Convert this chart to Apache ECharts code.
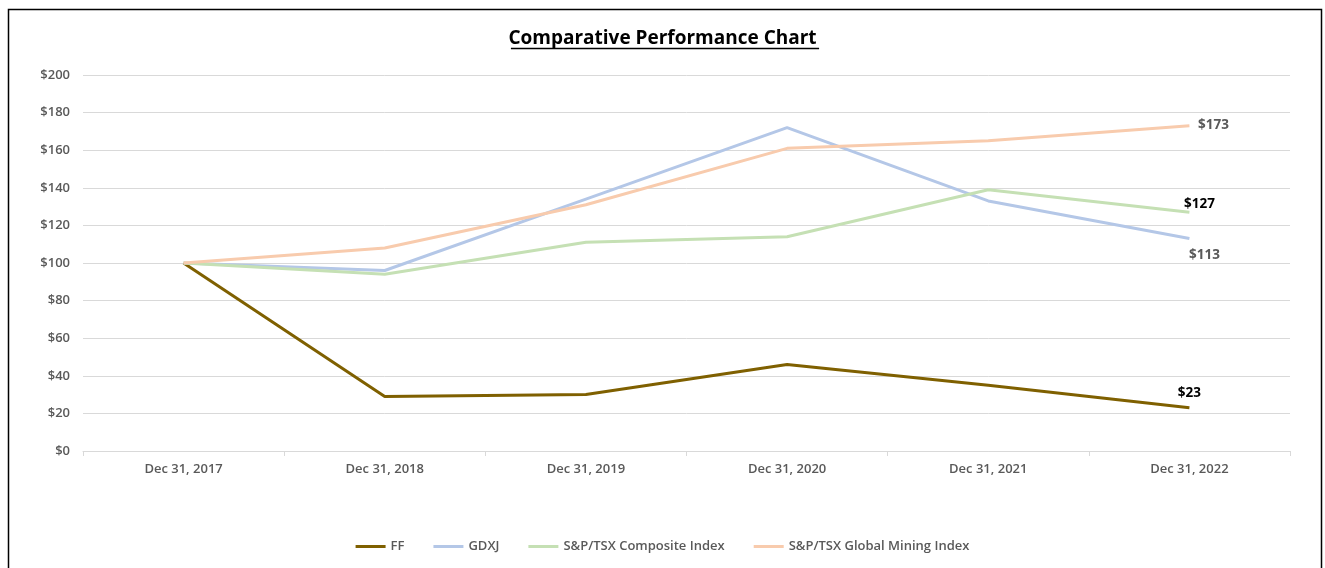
<!DOCTYPE html>
<html>
<head>
<meta charset="utf-8">
<script src="https://cdn.jsdelivr.net/npm/echarts@6/dist/echarts.min.js"></script>
<style>
html,body{margin:0;padding:0;background:#fff;}
#chart{width:1325px;height:568px;}
</style>
</head>
<body>
<div id="chart"></div>
<script>
const categories = ['Dec 31, 2017','Dec 31, 2018','Dec 31, 2019','Dec 31, 2020','Dec 31, 2021','Dec 31, 2022'];
const ff = [100, 29, 30, 46, 35, 23];
const gdxj = [100, 96, 134, 172, 133, 113];
const composite = [100, 94, 111, 114, 139, 127];
const mining = [100, 108, 131, 161, 165, 173];
const seriesNames = ['FF','GDXJ','S&P/TSX Composite Index','S&P/TSX Global Mining Index'];
const yTicks = {min:0, max:200, interval:20};

const font = 'Open Sans';
const grayText = '#595959';

function endLabel(opt){
  return Object.assign({show:true, formatter:'${c}', fontFamily:font, fontSize:13.5,
    align:'center', verticalAlign:'middle', distance:0}, opt);
}

const chart = echarts.init(document.getElementById('chart'), null, {renderer:'canvas'});

const titleText = 'Comparative Performance Chart';
const ctx = document.createElement('canvas').getContext('2d');
ctx.font = 'bold 19px "Open Sans"';
const tw = ctx.measureText(titleText).width;

const option = {
  animation:false,
  backgroundColor:'#fff',
  title:{
    text:titleText, left:'center', top:24,
    textStyle:{fontFamily:font, fontSize:19, fontWeight:'bold', color:'#000'}
  },
  graphic:[
    {type:'rect', shape:{x:8.5, y:9.5, width:1313, height:600}, style:{fill:'none', stroke:'#000', lineWidth:1.5}, silent:true},
    {type:'line', shape:{x1:665-tw/2, y1:48.5, x2:665+tw/2, y2:48.5}, style:{stroke:'#000', lineWidth:1.5}, silent:true}
  ],
  legend:{
    bottom:10, left:'center', itemWidth:30, itemHeight:3, itemGap:29,
    icon:'rect',
    textStyle:{fontFamily:font, fontSize:13, fontWeight:600, color:grayText},
    data:seriesNames
  },
  grid:{left:83, right:35, top:75, bottom:117},
  xAxis:{
    type:'category', data:categories, boundaryGap:true,
    axisLine:{lineStyle:{color:'#d9d9d9', width:1}},
    axisTick:{show:true, length:5, lineStyle:{color:'#d9d9d9'}},
    axisLabel:{fontFamily:font, fontSize:13, fontWeight:600, color:grayText, margin:12}
  },
  yAxis:{
    type:'value', min:yTicks.min, max:yTicks.max, interval:yTicks.interval,
    axisLine:{show:false}, axisTick:{show:false},
    splitLine:{lineStyle:{color:'#d9d9d9', width:1}},
    axisLabel:{fontFamily:font, fontSize:13, fontWeight:600, color:grayText, margin:13, formatter:'${value}'}
  },
  series:[
    {name:seriesNames[0], type:'line', data:ff, symbol:'none',
     lineStyle:{width:3, color:'#7F6000'}, itemStyle:{color:'#7F6000'},
     endLabel:endLabel({offset:[0,-15], fontWeight:'bold', color:'#000'})},
    {name:seriesNames[1], type:'line', data:gdxj, symbol:'none',
     lineStyle:{width:3, color:'#B4C7E7'}, itemStyle:{color:'#B4C7E7'},
     endLabel:endLabel({offset:[15,17], fontWeight:'bold', color:grayText})},
    {name:seriesNames[2], type:'line', data:composite, symbol:'none',
     lineStyle:{width:3, color:'#C5E0B4'}, itemStyle:{color:'#C5E0B4'},
     endLabel:endLabel({offset:[10,-8], fontWeight:'bold', color:'#000'})},
    {name:seriesNames[3], type:'line', data:mining, symbol:'none',
     lineStyle:{width:3, color:'#F8CBAD'}, itemStyle:{color:'#F8CBAD'},
     endLabel:endLabel({offset:[24,-1], fontWeight:'bold', color:grayText})}
  ]
};
chart.setOption(option);
</script>
</body>
</html>
